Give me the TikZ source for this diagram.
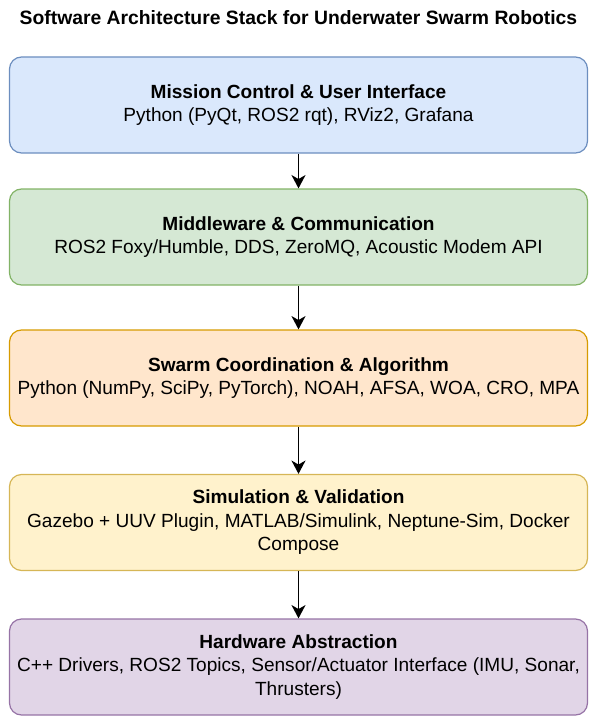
\documentclass[tikz,border=0pt]{standalone}
\usepackage{fontspec}
\setmainfont{Liberation Sans}
\usetikzlibrary{arrows.meta}

\definecolor{blueFill}{HTML}{DAE8FC}
\definecolor{blueLine}{HTML}{6C8EBF}
\definecolor{greenFill}{HTML}{D5E8D4}
\definecolor{greenLine}{HTML}{82B366}
\definecolor{orangeFill}{HTML}{FFE6CC}
\definecolor{orangeLine}{HTML}{D79B00}
\definecolor{yellowFill}{HTML}{FFF2CC}
\definecolor{yellowLine}{HTML}{D6B656}
\definecolor{purpleFill}{HTML}{E1D5E7}
\definecolor{purpleLine}{HTML}{9673A6}

\tikzset{
  layer/.style={draw, rounded corners=9pt, line width=0.9pt, minimum width=433.5pt, minimum height=72pt,
    align=center, inner sep=0pt, font=\fontsize{14.3pt}{17.6pt}\selectfont},
  flow/.style={-{Stealth[length=10pt,width=10.5pt,inset=3pt]}, line width=1.4pt}
}

\begin{document}
\begin{tikzpicture}[x=0.75pt,y=0.75pt,yscale=-1,xscale=1]
	\useasboundingbox (0,0) rectangle (598,724);
	% title
	\node (title) at (298.5,18) {\fontsize{14.5pt}{17pt}\selectfont\bfseries Software Architecture Stack for Underwater Swarm Robotics};
	% layers
	\node [layer, fill=blueFill, draw=blueLine] (mission) at (298.5,105) {\textbf{Mission Control \& User Interface}\\Python (PyQt, ROS2 rqt), RViz2, Grafana};
	\node [layer, fill=greenFill, draw=greenLine] (middleware) at (298.5,237) {\textbf{Middleware \& Communication}\\ROS2 Foxy/Humble, DDS, ZeroMQ, Acoustic Modem API};
	\node [layer, fill=orangeFill, draw=orangeLine] (swarm) at (298.5,378) {\textbf{Swarm Coordination \& Algorithm}\\Python (NumPy, SciPy, PyTorch), NOAH, AFSA, WOA, CRO, MPA};
	\node [layer, fill=yellowFill, draw=yellowLine] (sim) at (298.5,522.5) {\textbf{Simulation \& Validation}\\Gazebo + UUV Plugin, MATLAB/Simulink, Neptune-Sim, Docker\\Compose};
	\node [layer, fill=purpleFill, draw=purpleLine] (hw) at (298.5,667) {\textbf{Hardware Abstraction}\\C++ Drivers, ROS2 Topics, Sensor/Actuator Interface (IMU, Sonar,\\Thrusters)};
	% arrows
	\draw [flow] (mission) -- (middleware);
	\draw [flow] (middleware) -- (swarm);
	\draw [flow] (swarm) -- (sim);
	\draw [flow] (sim) -- (hw);
\end{tikzpicture}
\end{document}
